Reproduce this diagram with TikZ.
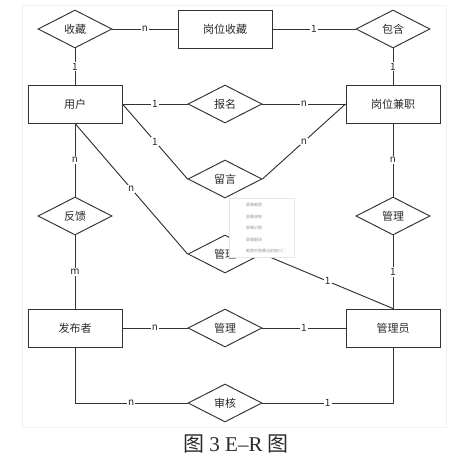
\documentclass[tikz,border=0pt]{standalone}
\usepackage{fontspec}
\setmainfont{Noto Sans CJK SC}
\newfontfamily\capfont{Liberation Serif}
\usetikzlibrary{shapes.geometric,positioning}
\definecolor{erLine}{HTML}{333333}
\definecolor{erText}{HTML}{2A2A2A}
\tikzset{
  conn/.style={draw=erLine,line width=0.95pt},
  entity/.style={draw=erLine,line width=0.95pt,fill=white,text=erText,minimum width=94pt,minimum height=38pt,inner sep=0pt,font=\fontsize{11}{12}\selectfont},
  relation/.style={draw=erLine,line width=0.95pt,fill=white,text=erText,diamond,aspect=2,minimum width=74pt,minimum height=38pt,inner sep=0pt,font=\fontsize{11}{12}\selectfont},
  card/.style={fill=white,text=erText,inner sep=1pt,font=\fontsize{10}{10}\selectfont},
  menuitem/.style={anchor=west,inner sep=0pt,text=gray!80,font=\fontsize{4}{5}\selectfont}
}

\begin{document}
\begin{tikzpicture}[x=1pt,y=-1pt]
  \useasboundingbox (0,0) rectangle (467,469);
  \draw[gray!10,fill=white] (22,5) rectangle (446,427);

  % entities
  \node[entity] (favJob) at (225,29) {岗位收藏};
  \node[entity] (user) at (75,104) {用户};
  \node[entity] (partJob) at (393,104) {岗位兼职};
  \node[entity] (publisher) at (75,328) {发布者};
  \node[entity] (admin) at (393,328) {管理员};

  % relations
  \node[relation] (relFav) at (75,29) {收藏};
  \node[relation] (relContain) at (393,29) {包含};
  \node[relation] (relApply) at (225,104) {报名};
  \node[relation] (relMsg) at (225,179) {留言};
  \node[relation] (relFeedback) at (75,216) {反馈};
  \node[relation] (relManageU) at (225,254) {管理};
  \node[relation] (relManageJ) at (393,216) {管理};
  \node[relation] (relManageP) at (225,328) {管理};
  \node[relation] (relAudit) at (225,403) {审核};

  % connectors
  \draw[conn] (relFav) -- node[card]{n} (favJob);
  \draw[conn] (favJob) -- node[card]{1} (relContain);
  \draw[conn] (relFav) -- node[card]{1} (user);
  \draw[conn] (relContain) -- node[card]{1} (partJob);
  \draw[conn] (user) -- node[card]{1} (relApply);
  \draw[conn] (relApply) -- node[card]{n} (partJob);
  \draw[conn] (user.east) -- node[card]{1} (relMsg.west);
  \draw[conn] (relMsg.east) -- node[card]{n} (partJob.west);
  \draw[conn] (user.south) -- node[card]{n} (relManageU.west);
  \draw[conn] (relManageU.east) -- node[card]{1} (admin.north);
  \draw[conn] (user) -- node[card]{n} (relFeedback);
  \draw[conn] (relFeedback) -- node[card]{m} (publisher);
  \draw[conn] (partJob) -- node[card]{n} (relManageJ);
  \draw[conn] (relManageJ) -- node[card]{1} (admin);
  \draw[conn] (publisher) -- node[card]{n} (relManageP);
  \draw[conn] (relManageP) -- node[card]{1} (admin);
  \draw[conn] (publisher.south) |- node[card,pos=0.75]{n} (relAudit.west);
  \draw[conn] (relAudit.east) -| node[card,pos=0.25]{1} (admin.south);

  % screenshot menu
  \node[draw=gray!20,fill=white,minimum width=65pt,minimum height=59pt,anchor=north west] (menu) at (229,198) {};
  \node[menuitem] (m1) at (246,205) {屏幕截图};
  \node[menuitem] (m2) at (246,216.5) {屏幕录制};
  \node[menuitem] (m3) at (246,228) {屏幕识图};
  \node[menuitem] (m4) at (246,239.5) {屏幕翻译};
  \node[menuitem] (m5) at (246,251) {截图时隐藏当前窗口□};

  % caption
  \node[text=erText,font=\fontsize{21}{23}\selectfont] (caption) at (236,444) {图 {\capfont 3 E–R} 图};
\end{tikzpicture}
\end{document}
